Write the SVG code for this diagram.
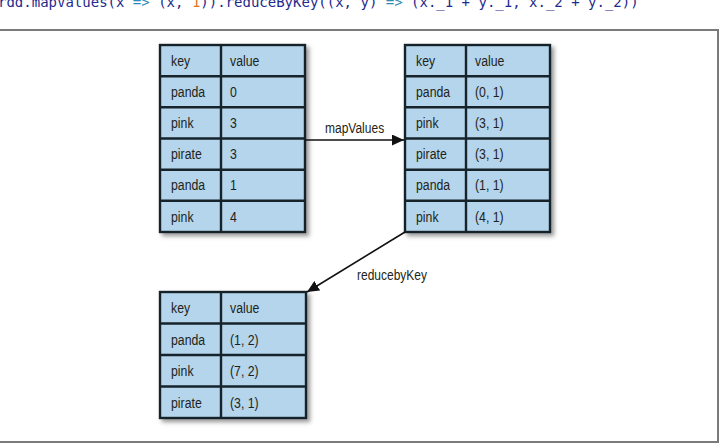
<svg xmlns="http://www.w3.org/2000/svg" width="724" height="444" viewBox="0 0 724 444">
<style>
.code{font-family:"DejaVu Sans Mono","Liberation Mono",monospace;font-size:14px;fill:#1f2a8c}
.op{fill:#2b8db5}
.num{fill:#e0761f}
.cell{fill:#b4d5eb;stroke:#16232b;stroke-width:2.4}
.div{stroke:#16232b;stroke-width:2.4;fill:none}
.t{font-family:"Liberation Sans",Arial,sans-serif;font-size:15px;fill:#231f20}
.conn{stroke:#111;stroke-width:1.6;fill:none}
</style>
<defs>
<filter id="sh" x="-10%" y="-10%" width="130%" height="130%">
<feDropShadow dx="3" dy="3" stdDeviation="2" flood-color="#555" flood-opacity="0.6"/>
</filter>
<marker id="ah" markerUnits="userSpaceOnUse" markerWidth="13" markerHeight="11" refX="12" refY="5.5" orient="auto">
<path d="M0,0 L12,5.5 L0,11 z" fill="#111"/>
</marker>
</defs>
<rect x="0" y="0" width="724" height="444" fill="#fff"/>
<text class="code" x="-2" y="7"><tspan>rdd.mapValues(x </tspan><tspan class="op">=&gt;</tspan><tspan> (x, </tspan><tspan class="num">1</tspan><tspan>)).reduceByKey((x, y) </tspan><tspan class="op">=&gt;</tspan><tspan> (x._1 + y._1, x._2 + y._2))</tspan></text>
<rect x="-2" y="30" width="720" height="412" fill="none" stroke="#7a7a7a" stroke-width="2"/>

<g id="table1">
<rect class="cell" x="160" y="45" width="145" height="187" filter="url(#sh)"/>
<path class="div" d="M221,45 V232 M160,76.2 H305 M160,107.3 H305 M160,138.5 H305 M160,169.7 H305 M160,200.8 H305"/>
<g transform="translate(171 0) scale(0.82 1)">
<text class="t" x="0" y="66">key</text>
<text class="t" x="0" y="97">panda</text>
<text class="t" x="0" y="128.5">pink</text>
<text class="t" x="0" y="159.5">pirate</text>
<text class="t" x="0" y="190.5">panda</text>
<text class="t" x="0" y="222">pink</text>
</g>
<g transform="translate(230 0) scale(0.82 1)">
<text class="t" x="0" y="66">value</text>
<text class="t" x="0" y="97">0</text>
<text class="t" x="0" y="128.5">3</text>
<text class="t" x="0" y="159.5">3</text>
<text class="t" x="0" y="190.5">1</text>
<text class="t" x="0" y="222">4</text>
</g>
</g>

<g id="table2">
<rect class="cell" x="405" y="45" width="145" height="187" filter="url(#sh)"/>
<path class="div" d="M466,45 V232 M405,76.2 H550 M405,107.3 H550 M405,138.5 H550 M405,169.7 H550 M405,200.8 H550"/>
<g transform="translate(416 0) scale(0.82 1)">
<text class="t" x="0" y="66">key</text>
<text class="t" x="0" y="97">panda</text>
<text class="t" x="0" y="128.5">pink</text>
<text class="t" x="0" y="159.5">pirate</text>
<text class="t" x="0" y="190.5">panda</text>
<text class="t" x="0" y="222">pink</text>
</g>
<g transform="translate(475 0) scale(0.82 1)">
<text class="t" x="0" y="66">value</text>
<text class="t" x="0" y="97">(0, 1)</text>
<text class="t" x="0" y="128.5">(3, 1)</text>
<text class="t" x="0" y="159.5">(3, 1)</text>
<text class="t" x="0" y="190.5">(1, 1)</text>
<text class="t" x="0" y="222">(4, 1)</text>
</g>
</g>

<g id="table3">
<rect class="cell" x="160" y="292" width="146" height="126" filter="url(#sh)"/>
<path class="div" d="M221,292 V418 M160,323.5 H306 M160,355 H306 M160,386.5 H306"/>
<g transform="translate(171 0) scale(0.82 1)">
<text class="t" x="0" y="313.5">key</text>
<text class="t" x="0" y="345">panda</text>
<text class="t" x="0" y="376.5">pink</text>
<text class="t" x="0" y="408">pirate</text>
</g>
<g transform="translate(230 0) scale(0.82 1)">
<text class="t" x="0" y="313.5">value</text>
<text class="t" x="0" y="345">(1, 2)</text>
<text class="t" x="0" y="376.5">(7, 2)</text>
<text class="t" x="0" y="408">(3, 1)</text>
</g>
</g>

<g id="connectors">
<line class="conn" x1="305" y1="140" x2="404" y2="140" marker-end="url(#ah)"/>
<text class="t" x="0" y="133" transform="translate(325 0) scale(0.8 1)">mapValues</text>
<line class="conn" x1="405" y1="232" x2="307" y2="292" marker-end="url(#ah)"/>
<text class="t" x="0" y="280" transform="translate(357 0) scale(0.8 1)">reducebyKey</text>
</g>
</svg>
